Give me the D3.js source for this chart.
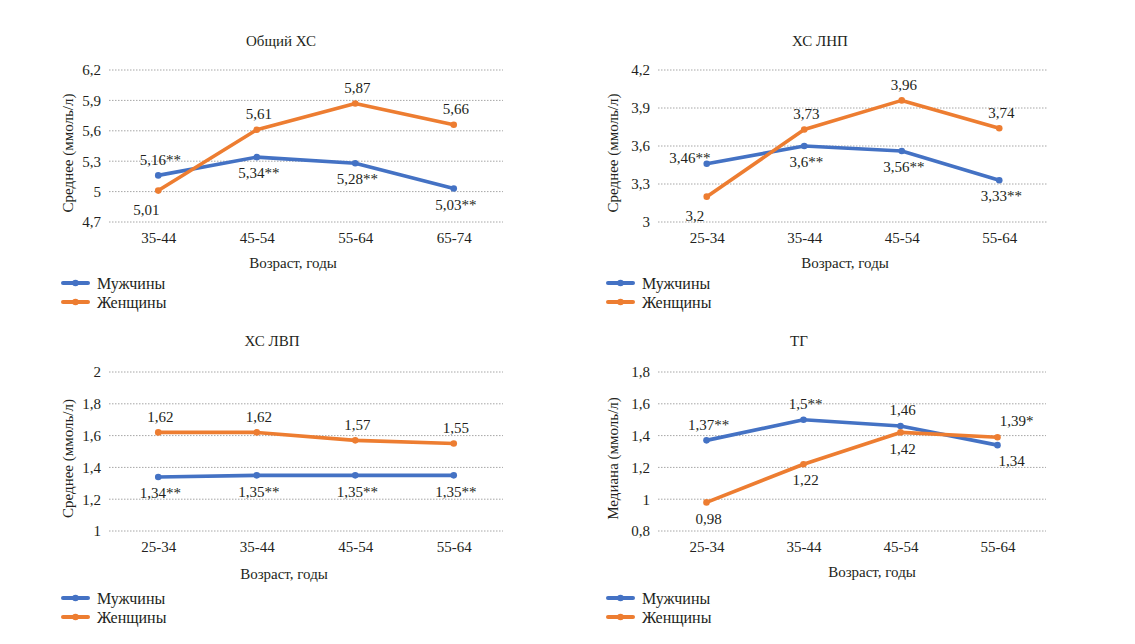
<!DOCTYPE html>
<html>
<head>
<meta charset="utf-8">
<script src="https://cdn.jsdelivr.net/npm/d3@7/dist/d3.min.js"></script>
</head>
<body style="margin:0">
<svg id="chart" width="1135" height="644"></svg>
<script>
// ---------- DATA ----------
const ageGroupsA = ["35-44", "45-54", "55-64", "65-74"];
const ageGroupsB = ["25-34", "35-44", "45-54", "55-64"];

const totalMen = [5.16, 5.34, 5.28, 5.03];
const totalWomen = [5.01, 5.61, 5.87, 5.66];
const totalMenLabels = ["5,16**", "5,34**", "5,28**", "5,03**"];
const totalWomenLabels = ["5,01", "5,61", "5,87", "5,66"];
const totalTicks = [4.7, 5, 5.3, 5.6, 5.9, 6.2];

const ldlMen = [3.46, 3.6, 3.56, 3.33];
const ldlWomen = [3.2, 3.73, 3.96, 3.74];
const ldlMenLabels = ["3,46**", "3,6**", "3,56**", "3,33**"];
const ldlWomenLabels = ["3,2", "3,73", "3,96", "3,74"];
const ldlTicks = [3, 3.3, 3.6, 3.9, 4.2];

const hdlMen = [1.34, 1.35, 1.35, 1.35];
const hdlWomen = [1.62, 1.62, 1.57, 1.55];
const hdlMenLabels = ["1,34**", "1,35**", "1,35**", "1,35**"];
const hdlWomenLabels = ["1,62", "1,62", "1,57", "1,55"];
const hdlTicks = [1, 1.2, 1.4, 1.6, 1.8, 2];

const tgMen = [1.37, 1.5, 1.46, 1.34];
const tgWomen = [0.98, 1.22, 1.42, 1.39];
const tgMenLabels = ["1,37**", "1,5**", "1,46", "1,34"];
const tgWomenLabels = ["0,98", "1,22", "1,42", "1,39*"];
const tgTicks = [0.8, 1, 1.2, 1.4, 1.6, 1.8];

const seriesNames = ["Мужчины", "Женщины"];
const xAxisTitle = "Возраст, годы";

const totalMenPlace = ["above", "below", "below", "below"];
const totalWomenPlace = ["belowLeft", "above", "above", "above"];
const ldlMenPlace = ["left", "below", "below", "below"];
const ldlWomenPlace = ["belowLeft", "above", "above", "above"];
const hdlMenPlace = ["below", "below", "below", "below"];
const hdlWomenPlace = ["above", "above", "above", "above"];
const tgMenPlace = ["above", "above", "above", "belowRight"];
const tgWomenPlace = ["below", "below", "below", "aboveRight"];

// ---------- STYLE / LAYOUT ----------
const FONT = "Liberation Serif";
const TEXT_COLOR = "#231f20";
const colors = ["#4472C4", "#ED7D31"];
const placeOffsets = {
  above: [2, -16], below: [2, 16], belowLeft: [-12, 19],
  left: [-17, -6], aboveRight: [19, -16], belowRight: [14, 16]
};

const panels = [
  { title: "Общий ХС", yTitle: "Среднее (ммоль/л)", cats: ageGroupsA, ticks: totalTicks,
    men: totalMen, women: totalWomen, menL: totalMenLabels, womenL: totalWomenLabels,
    menP: totalMenPlace, womenP: totalWomenPlace,
    x0: 109, x1: 503, y0: 70, y1: 222, titleX: 281, titleY: 46, xtX: 293, xtY: 268,
    yTitleX: 68, legX: 63, legY: 283 },
  { title: "ХС ЛНП", yTitle: "Среднее (ммоль/л)", cats: ageGroupsB, ticks: ldlTicks,
    men: ldlMen, women: ldlWomen, menL: ldlMenLabels, womenL: ldlWomenLabels,
    menP: ldlMenPlace, womenP: ldlWomenPlace,
    x0: 658, x1: 1048, y0: 70, y1: 222, titleX: 820, titleY: 46, xtX: 845, xtY: 268,
    yTitleX: 613, legX: 608, legY: 283 },
  { title: "ХС ЛВП", yTitle: "Среднее (ммоль/л)", cats: ageGroupsB, ticks: hdlTicks,
    men: hdlMen, women: hdlWomen, menL: hdlMenLabels, womenL: hdlWomenLabels,
    menP: hdlMenPlace, womenP: hdlWomenPlace,
    x0: 109, x1: 503, y0: 372, y1: 531, titleX: 272, titleY: 346, xtX: 284, xtY: 579,
    yTitleX: 68, legX: 63, legY: 598 },
  { title: "ТГ", yTitle: "Медиана (ммоль/л)", cats: ageGroupsB, ticks: tgTicks,
    men: tgMen, women: tgWomen, menL: tgMenLabels, womenL: tgWomenLabels,
    menP: tgMenPlace, womenP: tgWomenPlace,
    x0: 658, x1: 1046, y0: 372, y1: 531, titleX: 799, titleY: 346, xtX: 872, xtY: 577,
    yTitleX: 613, legX: 608, legY: 598 }
];

const fmt = v => String(v).replace(".", ",");
const svg = d3.select("#chart");
const svgNode = svg.node();

function styleText(sel, size) {
  return sel.attr("font-family", FONT).attr("font-size", size).attr("fill", TEXT_COLOR)
    .style("font-family", FONT, "important").style("font-size", size + "px", "important");
}
// texts are placed directly on the svg root
function txt(size) {
  return styleText(svg.append("text"), size);
}
// render a d3 axis, then lift its tick labels to the svg root with absolute positions
function liftAxisText(axisG, ox, oy, orient) {
  axisG.selectAll(".tick").each(function () {
    const tick = d3.select(this);
    const tr = tick.attr("transform").match(/translate\(([^,]+),([^)]+)\)/);
    const tx = +tr[1] + ox, ty = +tr[2] + oy;
    const t = tick.select("text");
    const node = t.node();
    const lx = +(t.attr("x") || 0), ly = +(t.attr("y") || 0);
    t.attr("x", tx + lx).attr("y", ty + ly);
    styleText(t, 15);
    svgNode.appendChild(node);
  });
}

panels.forEach(p => {
  const g = svg.append("g");
  const x = d3.scalePoint().domain(p.cats).range([p.x0, p.x1]).padding(0.5);
  const y = d3.scaleLinear().domain([p.ticks[0], p.ticks[p.ticks.length - 1]]).range([p.y1, p.y0]);

  g.selectAll("line.grid").data(p.ticks).join("line")
    .attr("x1", p.x0).attr("x2", p.x1)
    .attr("y1", d => y(d)).attr("y2", d => y(d))
    .attr("stroke", "#a6a6a6").attr("stroke-width", 1)
    .attr("stroke-dasharray", "1.5,1.5");

  const ya = g.append("g").attr("transform", `translate(${p.x0},0)`)
    .call(d3.axisLeft(y).tickValues(p.ticks).tickFormat(fmt).tickSize(0).tickPadding(8));
  ya.select(".domain").remove();
  ya.selectAll(".tick text").attr("text-anchor", "end");
  liftAxisText(ya, p.x0, 0);

  const xa = g.append("g").attr("transform", `translate(0,${p.y1})`)
    .call(d3.axisBottom(x).tickSize(0).tickPadding(10));
  xa.select(".domain").remove();
  xa.selectAll(".tick text").attr("text-anchor", "middle");
  liftAxisText(xa, 0, p.y1);

  const series = [
    { vals: p.men, labels: p.menL, place: p.menP, color: colors[0] },
    { vals: p.women, labels: p.womenL, place: p.womenP, color: colors[1] }
  ];
  const line = d3.line().x((d, i) => x(p.cats[i])).y(d => y(d));

  series.forEach(s => {
    g.append("path").datum(s.vals).attr("d", line)
      .attr("fill", "none").attr("stroke", s.color).attr("stroke-width", 3.6)
      .attr("stroke-linejoin", "round").attr("stroke-linecap", "round");
    s.vals.forEach((d, i) => {
      g.append("circle").attr("cx", x(p.cats[i])).attr("cy", y(d)).attr("r", 3.3).attr("fill", s.color);
    });
  });

  seriesNames.forEach((name, i) => {
    const ly = p.legY + i * 19;
    g.append("line").attr("x1", p.legX).attr("x2", p.legX + 25).attr("y1", ly).attr("y2", ly)
      .attr("stroke", colors[i]).attr("stroke-width", 4).attr("stroke-linecap", "round");
    g.append("circle").attr("cx", p.legX + 12.5).attr("cy", ly).attr("r", 3.3).attr("fill", colors[i]);
    txt(16).attr("x", p.legX + 34).attr("y", ly).attr("dy", "0.35em").text(name);
  });

  txt(15).attr("x", p.titleX).attr("y", p.titleY).attr("text-anchor", "middle").text(p.title);
  txt(15).attr("x", p.xtX).attr("y", p.xtY).attr("text-anchor", "middle").text(xAxisTitle);
  txt(15).attr("transform", `translate(${p.yTitleX},${(p.y0 + p.y1) / 2 + 7}) rotate(-90)`)
    .attr("text-anchor", "middle").attr("dy", "0.35em").text(p.yTitle);

  series.forEach(s => {
    s.vals.forEach((d, i) => {
      const off = placeOffsets[s.place[i]];
      txt(15).attr("x", x(p.cats[i]) + off[0]).attr("y", y(d) + off[1])
        .attr("text-anchor", "middle").attr("dy", "0.35em").text(s.labels[i]);
    });
  });
});
</script>
</body>
</html>
